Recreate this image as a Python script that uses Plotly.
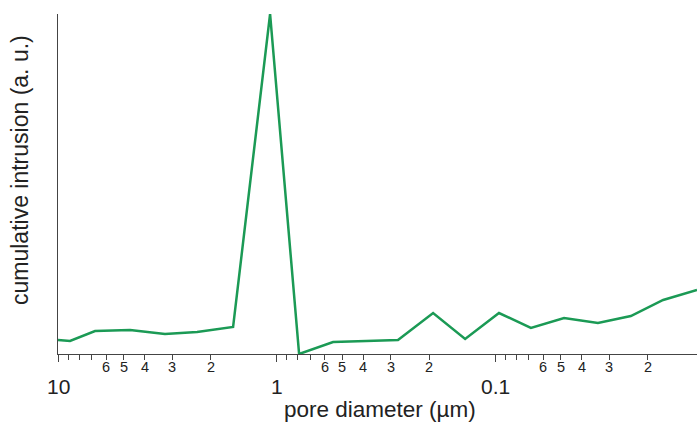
import plotly.graph_objects as go
import math

# pore diameter (µm) and cumulative intrusion (a.u.)
diameter = [10.0, 8.81, 6.77, 4.68, 3.24, 2.31, 1.58, 1.07, 0.788, 0.551, 0.389, 0.278,
            0.192, 0.137, 0.0959, 0.0685, 0.0483, 0.0338, 0.0239, 0.0170, 0.0119]
intrusion = [14, 13, 23, 24, 20, 22, 27, 340, 0, 12, 13, 14,
             41, 15, 41, 26, 36, 31, 38, 54, 64]

decade_vals = [10, 1, 0.1]
decade_text = ["10", "1", "0.1"]
label_vals = [6, 5, 4, 3, 2, 0.6, 0.5, 0.4, 0.3, 0.2, 0.06, 0.05, 0.04, 0.03, 0.02]
label_text = ["6", "5", "4", "3", "2"] * 3
minor_vals = [9, 8, 7, 0.9, 0.8, 0.7, 0.09, 0.08, 0.07]

green = "#1b9a55"
fig = go.Figure()
fig.add_trace(go.Scatter(x=diameter, y=intrusion, mode="lines",
                         line=dict(color=green, width=2.5), showlegend=False,
                         hoverinfo="skip"))

W, H = 697, 425
ML, MR, MT, MB = 58, 0, 14, 71
fig.update_layout(
    width=W, height=H,
    margin=dict(l=ML, r=MR, t=MT, b=MB),
    paper_bgcolor="white", plot_bgcolor="white",
    font=dict(family="Liberation Sans, Arial, sans-serif", color="#222"),
    xaxis=dict(type="log", range=[1, math.log10(0.0119)], showgrid=False, zeroline=False,
               showline=True, linecolor="#444", linewidth=1,
               ticks="outside", ticklen=7, tickcolor="#444", tickwidth=1,
               tickmode="array", tickvals=decade_vals, showticklabels=False,
               minor=dict(tickmode="array", tickvals=label_vals + minor_vals,
                          ticks="outside", ticklen=5, tickcolor="#444", tickwidth=1)),
    yaxis=dict(range=[0, 340], showgrid=False, zeroline=False, showline=True,
               linecolor="#444", linewidth=1, showticklabels=False, ticks=""),
)

plot_h = H - MT - MB
def paper_y(py):
    return (H - MB - py) / plot_h

def paper_x(px):
    return (px - ML) / (W - ML - MR)

for v, t in zip(decade_vals, decade_text):
    fig.add_annotation(x=math.log10(v), xref="x", y=paper_y(386), yref="paper",
                       text=t, showarrow=False, font=dict(size=21, color="#222"),
                       yanchor="middle", xanchor="center")
for v, t in zip(label_vals, label_text):
    fig.add_annotation(x=math.log10(v), xref="x", y=paper_y(367), yref="paper",
                       text=t, showarrow=False, font=dict(size=14.5, color="#222"),
                       yanchor="middle", xanchor="center")

fig.add_annotation(x=paper_x(380), xref="paper", y=paper_y(409), yref="paper",
                   text="pore diameter (µm)", showarrow=False,
                   font=dict(size=22.5, color="#222"), xanchor="center", yanchor="middle")
fig.add_annotation(x=paper_x(20), xref="paper", y=paper_y(170), yref="paper",
                   text="cumulative intrusion (a. u.)", showarrow=False, textangle=-90,
                   font=dict(size=23, color="#222"), xanchor="center", yanchor="middle")

fig.write_html("out.html", config={"displayModeBar": False},
               post_script="document.body.style.margin='0';")
